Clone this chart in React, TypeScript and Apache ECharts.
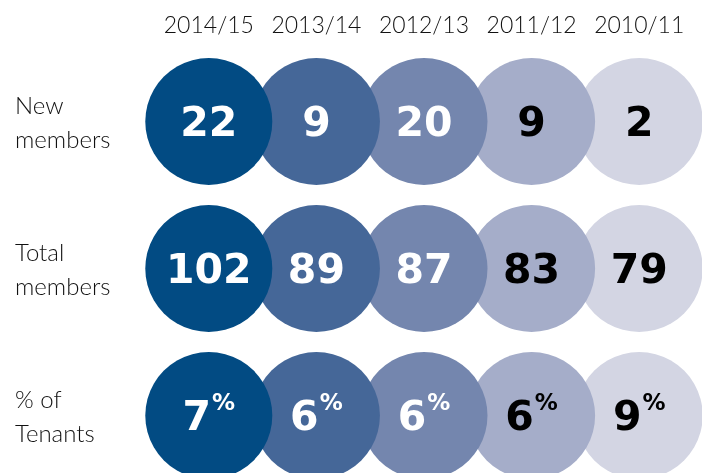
import React, { useEffect, useRef } from "react";
import * as echarts from "echarts";

const years = ["2014/15", "2013/14", "2012/13", "2011/12", "2010/11"];
const rows = ["New\nmembers", "Total\nmembers", "% of\nTenants"];
const newMembers = [22, 9, 20, 9, 2];
const totalMembers = [102, 89, 87, 83, 79];
const pctTenants = [7, 6, 6, 6, 9];
const colors = ["#024b83", "#456798", "#7486ae", "#a5adc9", "#d3d5e3"];
const textColors = ["#ffffff", "#ffffff", "#ffffff", "#000000", "#000000"];

export default function App() {
  const ref = useRef<HTMLDivElement>(null);
  useEffect(() => {
    if (!ref.current) return;
    const chart = echarts.init(ref.current, undefined, { renderer: "svg" });
    const rowData = [newMembers, totalMembers, pctTenants];
    const data: any[] = [];
    for (let c = years.length - 1; c >= 0; c--) {
      for (let r = 0; r < rows.length; r++) {
        const v = rowData[r][c];
        const isPct = r === 2;
        data.push({
          value: [c, r],
          itemStyle: { color: colors[c], opacity: 1 },
          label: {
            formatter: isPct ? `{n|${v}}{p|%}` : `{n|${v}}`,
            rich: {
              n: {
                fontFamily: "DejaVu Sans",
                fontWeight: "bold",
                fontSize: 41,
                color: textColors[c],
                lineHeight: 50,
              },
              p: {
                fontFamily: "DejaVu Sans",
                fontWeight: "bold",
                fontSize: 23,
                color: textColors[c],
                verticalAlign: "top",
                lineHeight: 50,
                padding: [0, 0, 8, 1],
              },
            },
          },
        });
      }
    }
    chart.setOption({
      animation: false,
      grid: {
        left: 155,
        top: 48,
        width: 538,
        height: 441,
        outerBoundsMode: "none",
        containLabel: false,
      },
      xAxis: {
        type: "category",
        data: years,
        position: "top",
        axisLine: { show: false },
        axisTick: { show: false },
        splitLine: { show: false },
        axisLabel: {
          interval: 0,
          margin: 13,
          fontFamily: "Lato",
          fontWeight: 300,
          fontSize: 23,
          color: "#111",
        },
      },
      yAxis: {
        type: "category",
        data: rows,
        inverse: true,
        axisLine: { show: false },
        axisTick: { show: false },
        splitLine: { show: false },
        axisLabel: {
          interval: 0,
          margin: 140,
          align: "left",
          fontFamily: "Lato",
          fontWeight: 300,
          fontSize: 24,
          lineHeight: 34,
          color: "#111",
        },
      },
      series: [
        {
          type: "scatter",
          symbol: "circle",
          symbolSize: 127,
          data,
          label: { show: true, position: "inside" },
          emphasis: { disabled: true },
        },
      ],
    });
    return () => chart.dispose();
  }, []);
  return (
    <div
      ref={ref}
      style={{ position: "fixed", left: 0, top: 0, width: 702, height: 473 }}
    />
  );
}
